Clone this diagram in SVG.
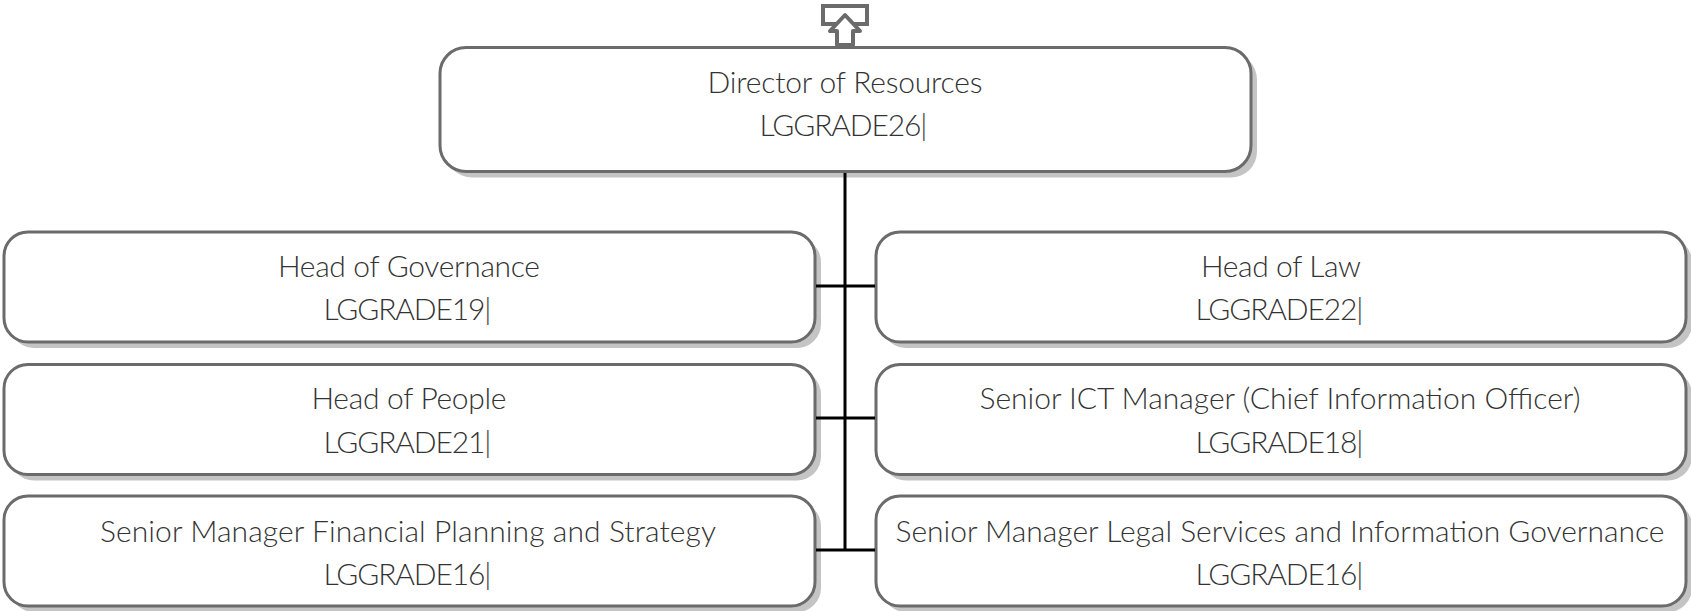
<svg xmlns="http://www.w3.org/2000/svg" width="1691" height="611" viewBox="0 0 1691 611">
<style>
.s{fill:#c4c4c4;stroke:none}
.b{fill:#fff;stroke:#6b6b6b;stroke-width:3}
.t{font-family:"Lato","Open Sans","Liberation Sans",sans-serif;font-weight:300;font-size:30px;fill:#333;text-anchor:middle}
.c{stroke:#000;stroke-width:3;fill:none}
.i{fill:#fff;stroke:#6b6b6b;stroke-width:4}
</style>
<rect width="1691" height="611" fill="#fff"/>
<g id="icon">
<rect class="i" x="823" y="6" width="44" height="18"/>
<path class="i" d="M845 15L830 31H837V45H853V31H860Z" stroke-linejoin="round"/>
</g>
<g id="director"><rect class="s" x="446" y="53.500" width="811" height="124" rx="26"/><rect class="b" x="440" y="47.500" width="811" height="124" rx="26"/><text class="t" x="845" y="93" textLength="275">Director of Resources</text><text class="t" x="843.500" y="136" textLength="168">LGGRADE26|</text></g>
<g id="governance"><rect class="s" x="10" y="238" width="811" height="110" rx="24"/><rect class="b" x="4" y="232" width="811" height="110" rx="24"/><text class="t" x="409" y="276.500" textLength="262">Head of Governance</text><text class="t" x="407.500" y="320" textLength="168">LGGRADE19|</text></g>
<g id="law"><rect class="s" x="882" y="238" width="810" height="110" rx="24"/><rect class="b" x="876" y="232" width="810" height="110" rx="24"/><text class="t" x="1281" y="276.500" textLength="160">Head of Law</text><text class="t" x="1279.500" y="320" textLength="168">LGGRADE22|</text></g>
<g id="people"><rect class="s" x="10" y="370.500" width="811" height="110" rx="24"/><rect class="b" x="4" y="364.500" width="811" height="110" rx="24"/><text class="t" x="409" y="408.500" textLength="195">Head of People</text><text class="t" x="407.500" y="453" textLength="168">LGGRADE21|</text></g>
<g id="ict"><rect class="s" x="882" y="370.500" width="810" height="110" rx="24"/><rect class="b" x="876" y="364.500" width="810" height="110" rx="24"/><text class="t" x="1280" y="408.500" textLength="601">Senior ICT Manager (Chief Information Officer)</text><text class="t" x="1279.500" y="453" textLength="168">LGGRADE18|</text></g>
<g id="finance"><rect class="s" x="10" y="502" width="811" height="110" rx="24"/><rect class="b" x="4" y="496" width="811" height="110" rx="24"/><text class="t" x="408" y="541.500" textLength="616">Senior Manager Financial Planning and Strategy</text><text class="t" x="407.500" y="585" textLength="168">LGGRADE16|</text></g>
<g id="legal"><rect class="s" x="882" y="502" width="810" height="110" rx="24"/><rect class="b" x="876" y="496" width="810" height="110" rx="24"/><text class="t" x="1280" y="541.500" textLength="769">Senior Manager Legal Services and Information Governance</text><text class="t" x="1279.500" y="585" textLength="168">LGGRADE16|</text></g>
<g id="connectors">
<path class="c" d="M845 173V550M816 286H875M816 418H875M816 550H875"/>
</g>
</svg>
